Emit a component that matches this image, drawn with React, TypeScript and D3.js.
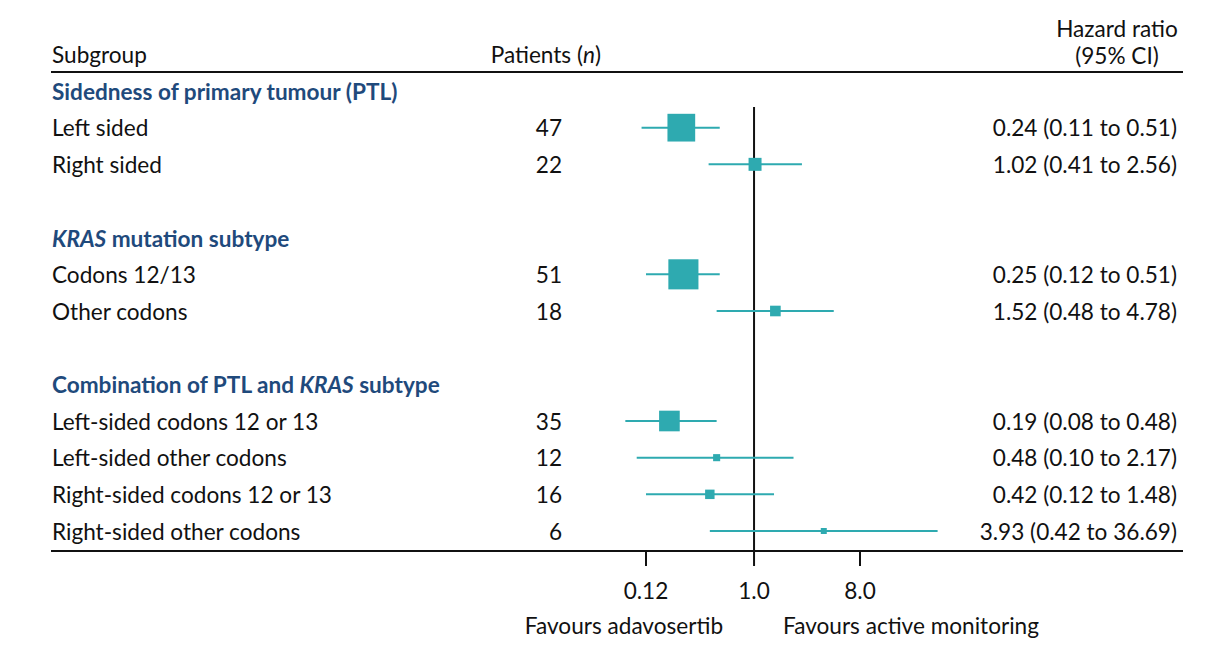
import React from "react";
import * as d3 from "d3";

const sections = [
  { title: [{ t: "Sidedness of primary tumour (PTL)", i: false }], start: 0 },
  { title: [{ t: "KRAS", i: true }, { t: " mutation subtype", i: false }], start: 4 },
  { title: [{ t: "Combination of PTL and ", i: false }, { t: "KRAS", i: true }, { t: " subtype", i: false }], start: 8 },
];

const subgroups = [
  "Left sided", "Right sided",
  "Codons 12/13", "Other codons",
  "Left-sided codons 12 or 13", "Left-sided other codons", "Right-sided codons 12 or 13", "Right-sided other codons",
];
const rowIndex = [1, 2, 5, 6, 9, 10, 11, 12];
const patients = [47, 22, 51, 18, 35, 12, 16, 6];
const hr = [0.24, 1.02, 0.25, 1.52, 0.19, 0.48, 0.42, 3.93];
const lower = [0.11, 0.41, 0.12, 0.48, 0.08, 0.10, 0.12, 0.42];
const upper = [0.51, 2.56, 0.51, 4.78, 0.48, 2.17, 1.48, 36.69];
const hrLabels = [
  "0.24 (0.11 to 0.51)", "1.02 (0.41 to 2.56)", "0.25 (0.12 to 0.51)", "1.52 (0.48 to 4.78)",
  "0.19 (0.08 to 0.48)", "0.48 (0.10 to 2.17)", "0.42 (0.12 to 1.48)", "3.93 (0.42 to 36.69)",
];
const tickValues = [0.12, 1, 8];
const tickLabels = ["0.12", "1.0", "8.0"];

const TEAL = "#2eaab0";
const BLUE = "#1f4a7c";
const FONT = "Lato, 'Open Sans', sans-serif";

export default function App() {
  const W = 1213, H = 646;
  const x = d3.scaleLog().domain([0.12, 8]).range([646, 860]);
  const y = d3.scaleLinear().domain([0, 12]).range([91, 531]);
  const boxSize = d3.scaleLinear().domain([0, 50]).range([0, 29.5]);
  const size = (n: number) => Math.max(6, boxSize(n));
  const axisY = 551;
  const fs = 22.6;

  return (
    <svg width={W} height={H} style={{ position: "absolute", left: 0, top: 0, background: "#fff" }} fontFamily={FONT}>
      <rect width={W} height={H} fill="#fff" />
      {/* header */}
      <text x={52} y={54} fontSize={fs} dominantBaseline="central" fill="#111">Subgroup</text>
      <text x={601} y={54} fontSize={fs} dominantBaseline="central" textAnchor="end" fill="#111">
        Patients (<tspan fontStyle="italic">n</tspan>)
      </text>
      <text x={1117} y={28} fontSize={fs} dominantBaseline="central" textAnchor="middle" fill="#111">Hazard ratio</text>
      <text x={1117} y={55} fontSize={fs} dominantBaseline="central" textAnchor="middle" fill="#111">(95% CI)</text>
      <line x1={51} x2={1183} y1={72} y2={72} stroke="#111" strokeWidth={2} />

      {sections.map((s, k) => (
        <text key={k} x={52} y={y(s.start)} fontSize={fs} fontWeight="bold" fill={BLUE} dominantBaseline="central">
          {s.title.map((p, j) => (
            <tspan key={j} fontStyle={p.i ? "italic" : "normal"}>{p.t}</tspan>
          ))}
        </text>
      ))}

      {/* reference line */}
      <line x1={x(1)} x2={x(1)} y1={107} y2={axisY} stroke="#111" strokeWidth={2} />

      {subgroups.map((g, i) => {
        const cy = y(rowIndex[i]);
        const s = size(patients[i]);
        return (
          <g key={g}>
            <text x={52} y={cy} fontSize={fs} dominantBaseline="central" fill="#111">{g}</text>
            <text x={562} y={cy} fontSize={fs} dominantBaseline="central" textAnchor="end" fill="#111">{patients[i]}</text>
            <line x1={x(lower[i])} x2={x(upper[i])} y1={cy} y2={cy} stroke={TEAL} strokeWidth={2} />
            <rect x={x(hr[i]) - s / 2} y={cy - s / 2} width={s} height={s} fill={TEAL} />
            <text x={1177} y={cy} fontSize={fs} dominantBaseline="central" textAnchor="end" fill="#111">{hrLabels[i]}</text>
          </g>
        );
      })}

      {/* axis */}
      <line x1={51} x2={1183} y1={axisY} y2={axisY} stroke="#111" strokeWidth={2} />
      {tickValues.map((v, i) => (
        <g key={v}>
          <line x1={x(v)} x2={x(v)} y1={axisY} y2={axisY + 15} stroke="#111" strokeWidth={2} />
          <text x={x(v)} y={590} fontSize={fs} textAnchor="middle" dominantBaseline="central" fill="#111">{tickLabels[i]}</text>
        </g>
      ))}
      <text x={x(1) - 31} y={625} fontSize={fs} textAnchor="end" dominantBaseline="central" fill="#111">Favours adavosertib</text>
      <text x={x(1) + 29} y={625} fontSize={fs} textAnchor="start" dominantBaseline="central" fill="#111">Favours active monitoring</text>
    </svg>
  );
}
